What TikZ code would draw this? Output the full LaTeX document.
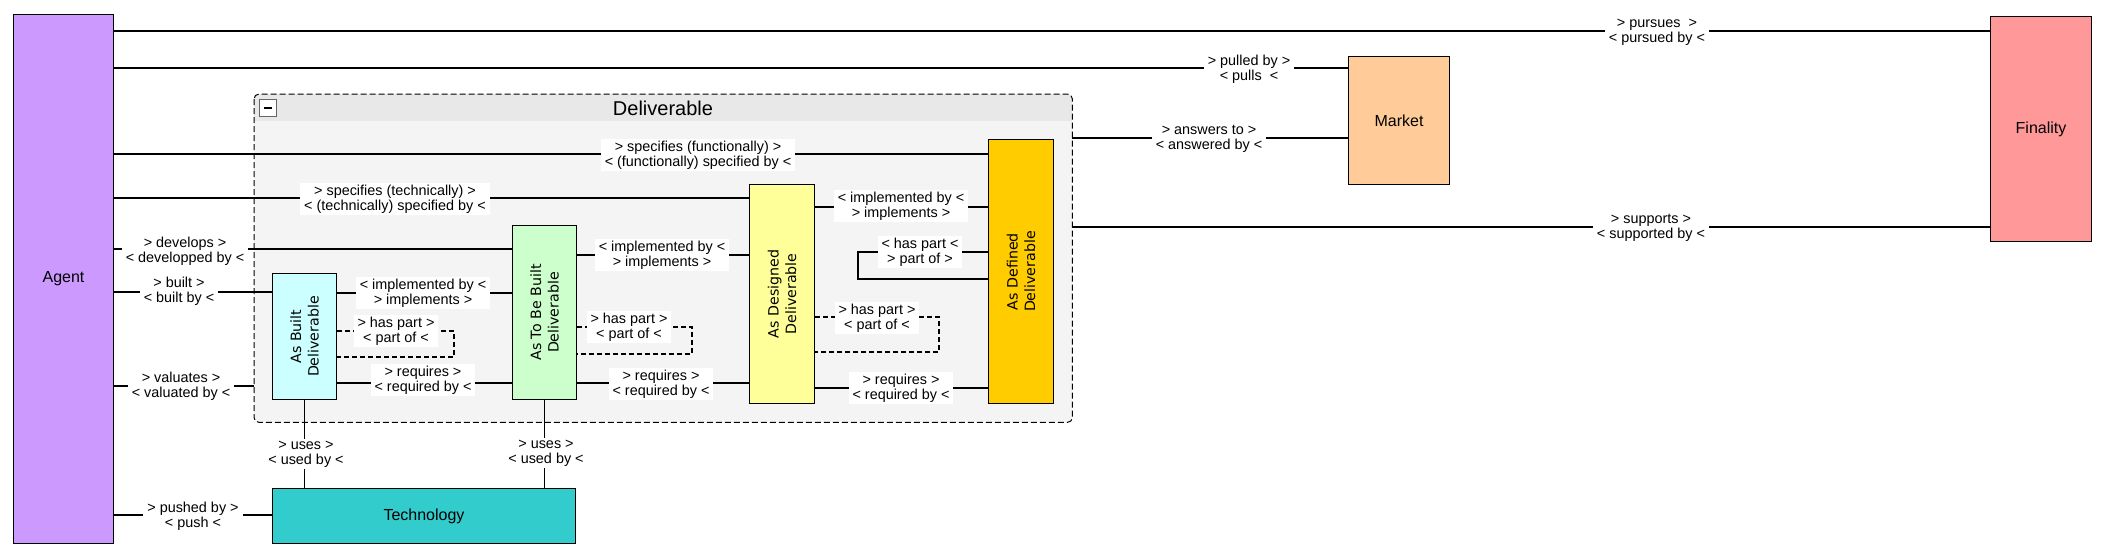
\documentclass[tikz,border=0pt]{standalone}
\usepackage{fontspec}
\setmainfont{Liberation Sans}
\newfontfamily\vfont{DejaVu Sans}
\definecolor{cAgent}{HTML}{CC99FF}
\definecolor{cFinality}{HTML}{FF9999}
\definecolor{cMarket}{HTML}{FFCC99}
\definecolor{cTech}{HTML}{33CCCC}
\definecolor{cDefined}{HTML}{FFCC00}
\definecolor{cDesigned}{HTML}{FFFF99}
\definecolor{cToBeBuilt}{HTML}{CCFFCC}
\definecolor{cBuilt}{HTML}{CCFFFF}
\definecolor{grpfill}{HTML}{F4F4F4}
\definecolor{hdrfill}{HTML}{E8E8E8}
\begin{document}
\begin{tikzpicture}[x=1pt,y=-1pt,
  box/.style={draw=black, line width=1pt, inner sep=0pt, anchor=north west, font=\fontsize{16}{19}\selectfont},
  conn/.style={line width=1.1pt, black},
  dconn/.style={conn, dash pattern=on 5pt off 3pt},
  lbl/.style={fill=white, inner xsep=4pt, inner ysep=2pt, align=center, font=\fontsize{14.4}{15}\selectfont},
  vlab/.style={rotate=90, align=center, font=\vfont\fontsize{14.2}{17.5}\selectfont}]

\fill[white] (0,0) rectangle (2106,557);
\useasboundingbox (0,0) rectangle (2106,557);

% Deliverable group
\node[anchor=north west, minimum width=818pt, minimum height=328pt, inner sep=0pt, fill=grpfill, rounded corners=5pt] (deliv) at (254,94) {};
\begin{scope}
  \clip[rounded corners=5pt] (deliv.north west) rectangle (deliv.south east);
  \fill[hdrfill] (deliv.north west) rectangle (deliv.east |- 0,121);
\end{scope}
\draw[dash pattern=on 6pt off 3pt, line width=1pt, rounded corners=5pt] (deliv.north west) rectangle (deliv.south east);
\node[draw=black!60, fill=white, line width=0.8pt, minimum size=17pt, inner sep=0pt, anchor=north west] (collapse) at (259,99) {};
\draw[line width=2pt] ([xshift=-4pt]collapse.center) -- ([xshift=4pt]collapse.center);
\node[font=\fontsize{20}{23}\selectfont] (title) at (663,108) {Deliverable};

% main nodes
\node[box, fill=cAgent, minimum width=100pt, minimum height=529pt] (agent) at (13,14) {Agent};
\node[box, fill=cFinality, minimum width=101pt, minimum height=225pt] (finality) at (1990,16) {Finality};
\node[box, fill=cMarket, minimum width=101pt, minimum height=128pt] (market) at (1348,56) {Market};
\node[box, fill=cTech, minimum width=303pt, minimum height=55pt] (tech) at (272,488) {Technology};
\node[box, fill=cBuilt, minimum width=64pt, minimum height=126pt,
  label={[vlab]center:{As Built\\Deliverable}}] (asbuilt) at (272,273) {};
\node[box, fill=cToBeBuilt, minimum width=64pt, minimum height=174pt,
  label={[vlab]center:{As To Be Built\\Deliverable}}] (atbb) at (512,225) {};
\node[box, fill=cDesigned, minimum width=65pt, minimum height=219pt,
  label={[vlab]center:{As Designed\\Deliverable}}] (asdesigned) at (749,184) {};
\node[box, fill=cDefined, minimum width=65pt, minimum height=264pt,
  label={[vlab]center:{As Defined\\Deliverable}}] (asdefined) at (988,139) {};

% connectors
\draw[conn] (agent.east |- 0,31) -- (finality.west |- 0,31);
\draw[conn] (agent.east |- 0,68) -- (market.west |- 0,68);
\draw[conn] (agent.east |- 0,154) -- (asdefined.west |- 0,154);
\draw[conn] (agent.east |- 0,198) -- (asdesigned.west |- 0,198);
\draw[conn] (agent.east |- 0,249) -- (atbb.west |- 0,249);
\draw[conn] (agent.east |- 0,292) -- (asbuilt.west |- 0,292);
\draw[conn] (agent.east |- 0,386) -- (deliv.west |- 0,386);
\draw[conn] (agent.east |- 0,515) -- (tech.west |- 0,515);
\draw[conn] (deliv.east |- 0,138) -- (market.west |- 0,138);
\draw[conn] (deliv.east |- 0,227) -- (finality.west |- 0,227);
\draw[conn] (asbuilt.east |- 0,293) -- (atbb.west |- 0,293);
\draw[dconn] (asbuilt.east |- 0,331) -- (454,331) -- (454,357) -- (asbuilt.east |- 0,357);
\draw[conn] (asbuilt.east |- 0,383) -- (atbb.west |- 0,383);
\draw[dconn] (atbb.east |- 0,327) -- (692,327) -- (692,354) -- (atbb.east |- 0,354);
\draw[conn] (atbb.east |- 0,255) -- (asdesigned.west |- 0,255);
\draw[conn] (atbb.east |- 0,383) -- (asdesigned.west |- 0,383);
\draw[conn] (asdesigned.east |- 0,207) -- (asdefined.west |- 0,207);
\draw[conn] (asdefined.west |- 0,252) -- (858,252) -- (858,279) -- (asdefined.west |- 0,279);
\draw[dconn] (asdesigned.east |- 0,317) -- (939,317) -- (939,352) -- (asdesigned.east |- 0,352);
\draw[conn] (asdesigned.east |- 0,388) -- (asdefined.west |- 0,388);
\draw[conn] (asbuilt.south) -- (asbuilt.south |- tech.north);
\draw[conn] (atbb.south) -- (atbb.south |- tech.north);

% labels
\node[lbl] (lpursues) at (1657,32) {> pursues \ >\\< pursued by <};
\node[lbl] (lpulled) at (1249,69) {> pulled by >\\< pulls \ <};
\node[lbl] (lspecf) at (698,155) {> specifies (functionally) >\\< (functionally) specified by <};
\node[lbl] (lspect) at (395,199) {> specifies (technically) >\\< (technically) specified by <};
\node[lbl] (ldevelops) at (185,251) {> develops >\\< developped by <};
\node[lbl] (lbuilt) at (179,291) {> built >\\< built by <};
\node[lbl] (lvaluates) at (181,386) {> valuates >\\< valuated by <};
\node[lbl] (lpushed) at (193,516) {> pushed by >\\< push <};
\node[lbl] (lanswers) at (1209,139) {> answers to >\\< answered by <};
\node[lbl] (lsupports) at (1651,228) {> supports >\\< supported by <};
\node[lbl] (limpa) at (423,293) {< implemented by <\\> implements >};
\node[lbl] (lparta) at (396,331) {> has part >\\< part of <};
\node[lbl] (lreqa) at (423,380) {> requires >\\< required by <};
\node[lbl] (lpartb) at (629,327) {> has part >\\< part of <};
\node[lbl] (limpb) at (662,255) {< implemented by <\\> implements >};
\node[lbl] (lreqb) at (661,384) {> requires >\\< required by <};
\node[lbl] (limpc) at (901,206) {< implemented by <\\> implements >};
\node[lbl] (lpartc) at (920,252) {< has part <\\> part of >};
\node[lbl] (lpartd) at (877,318) {> has part >\\< part of <};
\node[lbl] (lreqc) at (901,388) {> requires >\\< required by <};
\node[lbl] (lusesa) at (306,454) {> uses >\\< used by <};
\node[lbl] (lusesb) at (546,453) {> uses >\\< used by <};
\end{tikzpicture}
\end{document}
